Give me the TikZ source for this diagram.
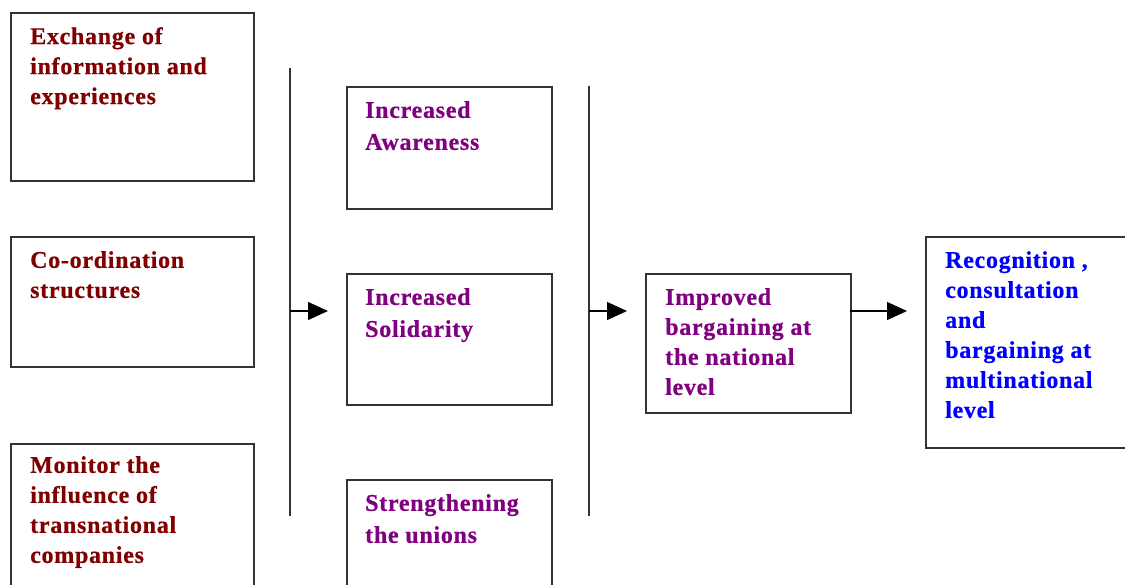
\documentclass[tikz,border=0pt]{standalone}
\usepackage{fontspec}
\setmainfont{Liberation Serif}[LetterSpace=3,BoldFont={Liberation Serif Bold},BoldFeatures={FakeBold=0.6}]
\usetikzlibrary{arrows.meta}
\usetikzlibrary{calc}

\definecolor{darkred}{HTML}{800000}
\definecolor{plum}{HTML}{800080}
\definecolor{pureblue}{HTML}{0000FF}

\begin{document}
\begin{tikzpicture}[x=1pt,y=-1pt,
    box/.style={draw=black!80,line width=1.6pt,rectangle,inner sep=0pt,anchor=north west},
    txt/.style={anchor=north west,align=left,inner sep=0pt,font=\bfseries\fontsize{24}{30}\selectfont},
    widetxt/.style={txt,font=\bfseries\fontsize{24}{32}\selectfont},
    bar/.style={draw=black!80,line width=1.6pt},
    flow/.style={-{Triangle[length=20pt,width=18pt]},line width=1.2pt,shorten >=18pt}]
    \clip (0,0) rectangle (1125,585);

    % Column 1: activities
    \node[box,minimum width=243pt,minimum height=168pt] (exch) at (10,12) {};
    \node[txt,darkred] (exchtxt) at ($(exch.north west)+(20,15)$) {Exchange of\\information and\\experiences};
    \node[box,minimum width=243pt,minimum height=130pt] (coord) at (10,236) {};
    \node[txt,darkred] (coordtxt) at ($(coord.north west)+(20,15)$) {Co-ordination\\structures};
    \node[box,minimum width=243pt,minimum height=170pt] (monit) at (10,443) {};
    \node[txt,darkred] (monittxt) at ($(monit.north west)+(20,13)$) {Monitor the\\influence of\\transnational\\companies};

    % First bar
    \coordinate (bar1top) at (290,68);
    \coordinate (bar1bot) at (290,516);
    \coordinate (bar1mid) at (290,311);
    \draw[bar] (bar1top) -- (bar1bot);

    % Column 2: outcomes
    \node[box,minimum width=205pt,minimum height=122pt] (aware) at (346,86) {};
    \node[widetxt,plum] (awaretxt) at ($(aware.north west)+(19,15)$) {Increased\\Awareness};
    \node[box,minimum width=205pt,minimum height=131pt] (solid) at (346,273) {};
    \node[widetxt,plum] (solidtxt) at ($(solid.north west)+(19,15)$) {Increased\\Solidarity};
    \node[box,minimum width=205pt,minimum height=140pt] (streng) at (346,479) {};
    \node[widetxt,plum] (strengtxt) at ($(streng.north west)+(19,15)$) {Strengthening\\the unions};

    % Second bar
    \coordinate (bar2top) at (589,86);
    \coordinate (bar2bot) at (589,516);
    \coordinate (bar2mid) at (589,311);
    \draw[bar] (bar2top) -- (bar2bot);

    % Column 3 and 4
    \node[box,minimum width=205pt,minimum height=139pt] (barg) at (645,273) {};
    \node[txt,plum] (bargtxt) at ($(barg.north west)+(20,15)$) {Improved\\bargaining at\\the national\\level};
    \coordinate (bargout) at (850,311);
    \node[box,minimum width=230pt,minimum height=211pt] (recog) at (925,236) {};
    \node[txt,pureblue] (recogtxt) at ($(recog.north west)+(20,15)$) {Recognition ,\\consultation\\and\\bargaining at\\multinational\\level};

    % Arrows
    \draw[flow] (bar1mid) -- (solid.west |- bar1mid);
    \draw[flow] (bar2mid) -- (barg.west |- bar2mid);
    \draw[flow] (bargout) -- (recog.west |- bargout);

\end{tikzpicture}
\end{document}
